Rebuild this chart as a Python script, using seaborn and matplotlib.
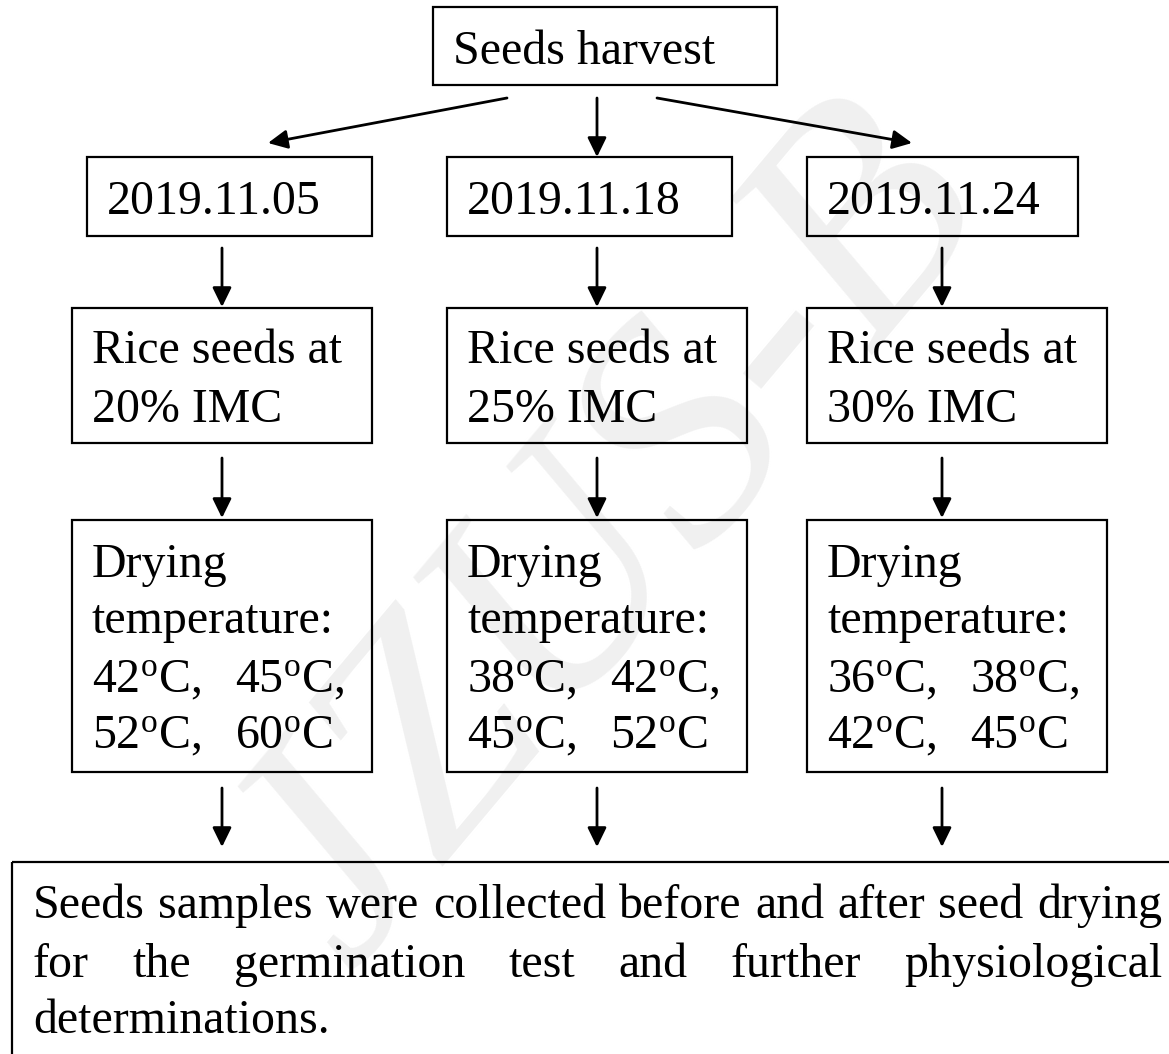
import matplotlib
matplotlib.use("Agg")
import matplotlib.pyplot as plt
from matplotlib.patches import Rectangle
import seaborn as sns

# Flowchart content
top_label = "Seeds harvest"
harvest_dates = ["2019.11.05", "2019.11.18", "2019.11.24"]
imc_levels = ["20%", "25%", "30%"]
drying_temps = [[42, 45, 52, 60],
                [38, 42, 45, 52],
                [36, 38, 42, 45]]
bottom_lines = ["Seeds samples were collected before and after seed drying",
                "for the germination test and further physiological",
                "determinations."]
watermark = "JZUS-B"

sns.set_theme(style="white")
plt.rcParams['font.family'] = ['Liberation Serif', 'DejaVu Serif']
plt.rcParams['text.color'] = 'black'
plt.rcParams['mathtext.fontset'] = 'custom'
plt.rcParams['mathtext.rm'] = 'Liberation Serif'
plt.rcParams['mathtext.it'] = 'Liberation Serif:italic'

W, H = 1169, 1054
fig = plt.figure(figsize=(W / 100, H / 100), dpi=100)
ax = fig.add_axes([0, 0, 1, 1])
ax.set_xlim(0, W)
ax.set_ylim(H, 0)
ax.axis('off')

FS = 34.5
BOX_LW = 1.6


def box(x0, y0, x1, y1):
    ax.add_patch(Rectangle((x0, y0), x1 - x0, y1 - y0, fill=False,
                           edgecolor='black', lw=BOX_LW, zorder=2))


def arrow(x0, y0, x1, y1):
    ax.annotate("", xy=(x1, y1), xytext=(x0, y0),
                arrowprops=dict(arrowstyle='-|>,head_length=0.45,head_width=0.22',
                                color='black', lw=2.0, mutation_scale=26,
                                shrinkA=0, shrinkB=0), zorder=3)


def txt(x, y, s):
    ax.text(x, y, s, fontsize=FS, ha='left', va='baseline', color='black', zorder=3)


# watermark behind everything
ax.text(612, 540, watermark, fontsize=228, fontstyle='italic', rotation=50,
        color='#f0f0f0', ha='center', va='center', zorder=0)

# top box
box(433, 7, 777, 85)
txt(453, 64, top_label)

date_left = [87, 447, 807]
date_right = [372, 732, 1078]
col_left = [72, 447, 807]
col_right = [372, 747, 1107]
arrow_x = [222, 597, 942]

# arrows from the top box
arrow(507, 98, 268, 143)
arrow(597, 98, 597, 157)
arrow(657, 98, 912, 143)

for i in range(3):
    box(date_left[i], 157, date_right[i], 236)
    txt(date_left[i] + 20, 214, harvest_dates[i])

    arrow(arrow_x[i], 248, arrow_x[i], 307)

    box(col_left[i], 308, col_right[i], 443)
    txt(col_left[i] + 20, 363, "Rice seeds at")
    txt(col_left[i] + 20, 422, imc_levels[i] + " IMC")

    arrow(arrow_x[i], 458, arrow_x[i], 518)

    box(col_left[i], 520, col_right[i], 772)
    txt(col_left[i] + 20, 577, "Drying")
    txt(col_left[i] + 20, 633, "temperature:")
    t = drying_temps[i]
    deg = r"$^{\mathrm{o}}$C"
    txt(col_left[i] + 20, 692, f"{t[0]}{deg},")
    txt(col_left[i] + 163, 692, f"{t[1]}{deg},")
    txt(col_left[i] + 20, 748, f"{t[2]}{deg},")
    txt(col_left[i] + 163, 748, f"{t[3]}{deg}")

    arrow(arrow_x[i], 788, arrow_x[i], 847)

# bottom box (runs off the right and bottom edges)
box(12, 862, W + 20, H + 20)

renderer = fig.canvas.get_renderer()


def justified(line, x0, x1, y):
    words = line.split()
    objs = [ax.text(0, y, w, fontsize=FS, ha='left', va='baseline',
                    color='black', zorder=3)
            for w in words]
    widths = [o.get_window_extent(renderer).width for o in objs]
    gap = (x1 - x0 - sum(widths)) / (len(words) - 1)
    x = x0
    for o, w in zip(objs, widths):
        o.set_x(x)
        x += w + gap


justified(bottom_lines[0], 33, 1162, 918)
justified(bottom_lines[1], 33, 1162, 977)
txt(33, 1033, bottom_lines[2])

fig.savefig("out.png", dpi=100, facecolor='white')
